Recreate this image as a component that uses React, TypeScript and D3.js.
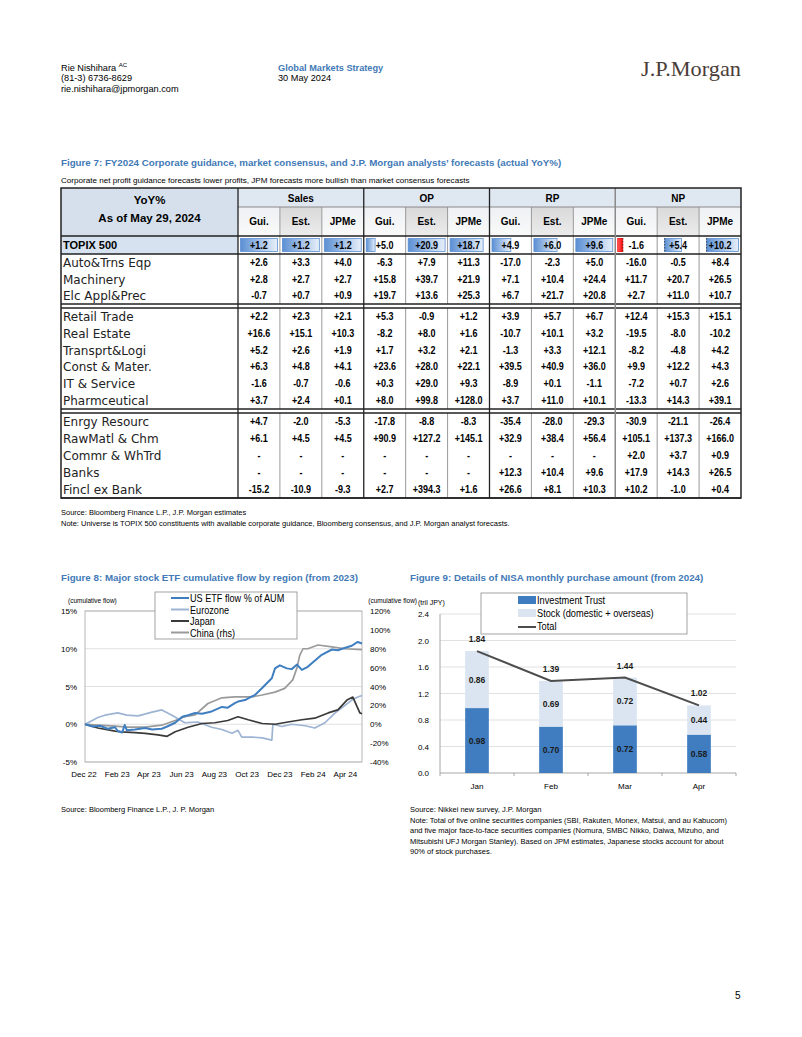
import React from "react";
import * as d3 from "d3";

const FONT = "'Liberation Sans', Arial, Helvetica, sans-serif";
const TITLE_BLUE = "#4279B6";

// ---------------- Figure 7 data ----------------
const metricNames = ["Sales", "OP", "RP", "NP"];
const subColNames = ["Gui.", "Est.", "JPMe"];
const topixName = "TOPIX 500";
const topixValues = [1.2, 1.2, 1.2, 5.0, 20.9, 18.7, 4.9, 6.0, 9.6, -1.6, 5.4, 10.2];

const groupA = ["Auto&Trns Eqp", "Machinery", "Elc Appl&Prec"];
const valuesA: (number | null)[][] = [
  [2.6, 3.3, 4.0, -6.3, 7.9, 11.3, -17.0, -2.3, 5.0, -16.0, -0.5, 8.4],
  [2.8, 2.7, 2.7, 15.8, 39.7, 21.9, 7.1, 10.4, 24.4, 11.7, 20.7, 26.5],
  [-0.7, 0.7, 0.9, 19.7, 13.6, 25.3, 6.7, 21.7, 20.8, 2.7, 11.0, 10.7],
];
const groupB = ["Retail Trade", "Real Estate", "Transprt&Logi", "Const & Mater.", "IT & Service", "Pharmceutical"];
const valuesB: (number | null)[][] = [
  [2.2, 2.3, 2.1, 5.3, -0.9, 1.2, 3.9, 5.7, 6.7, 12.4, 15.3, 15.1],
  [16.6, 15.1, 10.3, -8.2, 8.0, 1.6, -10.7, 10.1, 3.2, -19.5, -8.0, -10.2],
  [5.2, 2.6, 1.9, 1.7, 3.2, 2.1, -1.3, 3.3, 12.1, -8.2, -4.8, 4.2],
  [6.3, 4.8, 4.1, 23.6, 28.0, 22.1, 39.5, 40.9, 36.0, 9.9, 12.2, 4.3],
  [-1.6, -0.7, -0.6, 0.3, 29.0, 9.3, -8.9, 0.1, -1.1, -7.2, 0.7, 2.6],
  [3.7, 2.4, 0.1, 8.0, 99.8, 128.0, 3.7, 11.0, 10.1, -13.3, 14.3, 39.1],
];
const groupC = ["Enrgy Resourc", "RawMatl & Chm", "Commr & WhTrd", "Banks", "Fincl ex Bank"];
const valuesC: (number | null)[][] = [
  [4.7, -2.0, -5.3, -17.8, -8.8, -8.3, -35.4, -28.0, -29.3, -30.9, -21.1, -26.4],
  [6.1, 4.5, 4.5, 90.9, 127.2, 145.1, 32.9, 38.4, 56.4, 105.1, 137.3, 166.0],
  [null, null, null, null, null, null, null, null, null, 2.0, 3.7, 0.9],
  [null, null, null, null, null, null, 12.3, 10.4, 9.6, 17.9, 14.3, 26.5],
  [-15.2, -10.9, -9.3, 2.7, 394.3, 1.6, 26.6, 8.1, 10.3, 10.2, -1.0, 0.4],
];

// ---------------- Figure 8 data ----------------
const usEtf: [string, number][] = [
  ["2022-12-30", 0], ["2023-01-13", -0.3], ["2023-01-27", -0.2], ["2023-02-10", -0.6], ["2023-02-24", -0.4],
  ["2023-03-01", -0.9], ["2023-03-09", -1.1], ["2023-03-14", -0.1], ["2023-03-18", -0.8], ["2023-04-02", -0.7],
  ["2023-04-21", -0.5], ["2023-05-04", -0.7], ["2023-05-22", -0.6], ["2023-06-01", -0.3], ["2023-06-16", 0.2],
  ["2023-06-29", 1.0], ["2023-07-10", 1.2], ["2023-07-23", 1.5], ["2023-08-05", 1.4], ["2023-08-23", 1.7],
  ["2023-09-11", 2.3], ["2023-09-22", 2.2], ["2023-10-05", 2.8], ["2023-10-11", 3.0], ["2023-10-24", 3.2],
  ["2023-11-06", 3.7], ["2023-11-12", 3.9], ["2023-11-25", 4.8], ["2023-12-06", 5.6], ["2023-12-13", 6.1],
  ["2023-12-19", 7.4], ["2023-12-28", 7.8], ["2024-01-10", 7.4], ["2024-01-19", 7.3], ["2024-01-29", 7.9],
  ["2024-02-07", 7.2], ["2024-02-18", 7.6], ["2024-02-26", 8.1], ["2024-03-15", 9.2], ["2024-04-03", 9.9],
  ["2024-04-14", 9.8], ["2024-04-22", 10.0], ["2024-05-10", 10.4], ["2024-05-21", 10.9], ["2024-05-29", 10.7],
];
const eurozone: [string, number][] = [
  ["2022-12-30", 0], ["2023-01-10", 0.4], ["2023-01-23", 0.9], ["2023-02-05", 1.2], ["2023-03-01", 1.5],
  ["2023-03-18", 1.2], ["2023-04-08", 1.1], ["2023-05-04", 1.6], ["2023-05-22", 1.9], ["2023-06-10", 1.2],
  ["2023-07-04", 0.2], ["2023-07-28", 0.3], ["2023-08-23", -0.4], ["2023-09-11", -0.7], ["2023-09-22", -1.0],
  ["2023-09-30", -1.2], ["2023-10-11", -0.8], ["2023-10-18", -1.7], ["2023-11-06", -1.7], ["2023-11-25", -1.8],
  ["2023-12-13", -2.1], ["2023-12-15", 0.0], ["2024-01-01", -0.3], ["2024-01-19", 0.0], ["2024-02-13", -0.2],
  ["2024-03-02", -0.5], ["2024-03-21", 0.2], ["2024-04-09", 1.5], ["2024-04-22", 2.2], ["2024-05-10", 3.2],
  ["2024-05-21", 3.6], ["2024-05-29", 3.8],
];
const japan: [string, number][] = [
  ["2022-12-30", 0], ["2023-01-23", -0.5], ["2023-02-24", -0.9], ["2023-03-09", -1.0], ["2023-04-02", -1.1],
  ["2023-04-21", -1.2], ["2023-05-15", -1.4], ["2023-06-01", -1.6], ["2023-06-16", -1.0], ["2023-07-10", -0.4],
  ["2023-08-05", 0.1], ["2023-08-29", 0.2], ["2023-09-22", 0.5], ["2023-10-11", 1.0], ["2023-10-30", 0.6],
  ["2023-11-25", 0.1], ["2023-12-19", 0.0], ["2024-01-12", 0.3], ["2024-02-07", 0.6], ["2024-03-02", 0.8],
  ["2024-03-27", 1.5], ["2024-04-14", 1.9], ["2024-05-01", 3.2], ["2024-05-12", 3.6], ["2024-05-20", 2.3],
  ["2024-05-25", 1.5], ["2024-05-29", 1.4],
];
const chinaRhs: [string, number][] = [
  ["2022-12-30", 0], ["2023-01-23", -1], ["2023-02-24", -2], ["2023-03-18", -3], ["2023-04-21", -3],
  ["2023-05-22", -1], ["2023-06-16", 4], ["2023-07-04", 8], ["2023-07-23", 10], ["2023-08-16", 22],
  ["2023-09-11", 28], ["2023-10-05", 29], ["2023-11-06", 29], ["2023-11-25", 31], ["2023-12-19", 34],
  ["2024-01-06", 38], ["2024-01-21", 47], ["2024-01-29", 60], ["2024-02-03", 73], ["2024-02-09", 80],
  ["2024-02-18", 80], ["2024-03-08", 84], ["2024-04-03", 82], ["2024-04-27", 80], ["2024-05-29", 79],
];
const fig8Legend = ["US ETF flow % of AUM", "Eurozone", "Japan", "China (rhs)"];
const fig8Colors = ["#3F7FC1", "#9DB4D3", "#3A3A3A", "#9A9A9A"];
const leftTicks8 = [-5, 0, 5, 10, 15];
const rightTicks8 = [-40, -20, 0, 20, 40, 60, 80, 100, 120];

// ---------------- Figure 9 data ----------------
const nisaMonths = ["Jan", "Feb", "Mar", "Apr"];
const investmentTrust = [0.98, 0.70, 0.72, 0.58];
const stockPurchases = [0.86, 0.69, 0.72, 0.44];
const totalPurchases = [1.84, 1.39, 1.44, 1.02];
const yTicks9 = [0, 0.4, 0.8, 1.2, 1.6, 2.0, 2.4];
const fig9Legend = ["Investment Trust", "Stock (domestic + overseas)", "Total"];

const fmt = (v: number | null) => (v === null ? "-" : (v >= 0 ? "+" : "-") + Math.abs(v).toFixed(1));

// condensed text helper (narrow face emulation)
function NText(props: { x: number; y: number; sx?: number; anchor?: string; size: number; bold?: boolean; fill?: string; children: React.ReactNode }) {
  const { x, y, sx = 0.85, anchor = "start", size, bold, fill = "#000", children } = props;
  return (
    <text transform={`translate(${x},${y}) scale(${sx},1)`} textAnchor={anchor} fontSize={size}
      fontWeight={bold ? "bold" : "normal"} fill={fill}>{children}</text>
  );
}

function Table() {
  const x0 = 61, xL = 238, x1 = 741, colW = (x1 - xL) / 12;
  const yTop = 188, yH1 = 207, yH2 = 236, yTp = 254;
  const groups = [
    { names: groupA, vals: valuesA, top: 254, bottom: 304 },
    { names: groupB, vals: valuesB, top: 308, bottom: 409 },
    { names: groupC, vals: valuesC, top: 413, bottom: 498 },
  ];
  const colX = (i: number) => xL + i * colW;
  const sections: [number, number][] = [[yH1, yH2], [yH2, yTp], ...groups.map((g) => [g.top, g.bottom] as [number, number])];
  const els: React.ReactNode[] = [];

  els.push(<rect key="bgL" x={x0} y={yTop} width={xL - x0} height={yH2 - yTop} fill="#d6e0ec" />);
  els.push(<rect key="bgH1" x={xL} y={yTop} width={x1 - xL} height={yH1 - yTop} fill="#dfe7f1" />);
  for (let i = 0; i < 12; i++) {
    const k = i % 3;
    els.push(
      <rect key={"bgH2" + i} x={colX(i)} y={yH1} width={colW} height={yH2 - yH1}
        fill={k === 1 ? "url(#hdrGrey)" : "url(#hdrLight)"} />
    );
  }
  els.push(<rect key="bgTp" x={x0} y={yH2} width={xL - x0} height={yTp - yH2} fill="#d6e2ef" />);

  for (let g = 0; g < 4; g++) {
    const vs = topixValues.slice(g * 3, g * 3 + 3);
    const lo = Math.min(0, d3.min(vs) as number);
    const hi = Math.max(0, d3.max(vs) as number);
    for (let j = 0; j < 3; j++) {
      const i = g * 3 + j;
      const s = d3.scaleLinear().domain([lo, hi]).range([colX(i) + 2.5, colX(i) + colW - 2.5]);
      const v = vs[j];
      const a = s(Math.min(0, v)), b = s(Math.max(0, v));
      const neg = v < 0;
      els.push(
        <rect key={"bar" + i} x={a} y={yH2 + 2.5} width={Math.max(1.5, b - a)} height={yTp - yH2 - 5}
          fill={neg ? "url(#barRed)" : "url(#barBlue)"} stroke={neg ? "#ff0000" : "#5b8fd3"} strokeWidth={0.8} />
      );
      if (lo < 0) {
        els.push(<line key={"ax" + i} x1={s(0)} x2={s(0)} y1={yH2 + 2} y2={yTp - 2} stroke="#333" strokeDasharray="1.5,1.5" strokeWidth={0.8} />);
      }
    }
  }

  for (let i = 1; i < 12; i++) {
    if (i % 3 === 0) continue;
    sections.forEach(([a, b], si) =>
      els.push(<line key={`mv${i}-${si}`} x1={colX(i)} x2={colX(i)} y1={a} y2={b} stroke="#9a9a9a" strokeWidth={1} />)
    );
  }
  groups.forEach((g, gi) => {
    els.push(<line key={"gt" + gi} x1={x0} x2={x1} y1={g.top} y2={g.top} stroke="#222" strokeWidth={1.3} />);
    els.push(<line key={"gb" + gi} x1={x0} x2={x1} y1={g.bottom} y2={g.bottom} stroke="#222" strokeWidth={1.3} />);
  });
  els.push(<line key="h1" x1={xL} x2={x1} y1={yH1} y2={yH1} stroke="#8a8a8a" strokeWidth={1} />);
  els.push(<line key="h2" x1={x0} x2={x1} y1={yH2} y2={yH2} stroke="#222" strokeWidth={1.3} />);
  els.push(<line key="vL" x1={xL} x2={xL} y1={yTop} y2={498} stroke="#222" strokeWidth={1.3} />);
  [3, 6].forEach((i) => els.push(<line key={"vM" + i} x1={colX(i)} x2={colX(i)} y1={yTop} y2={498} stroke="#222" strokeWidth={1.3} />));
  els.push(<line key="vM9" x1={colX(9)} x2={colX(9)} y1={yTop} y2={498} stroke="#8a8a8a" strokeWidth={1.5} />);
  els.push(<rect key="outer" x={x0} y={yTop} width={x1 - x0} height={498 - yTop} fill="none" stroke="#222" strokeWidth={1.5} />);

  els.push(<text key="yoy" x={(x0 + xL) / 2} y={204} textAnchor="middle" fontWeight="bold" fontSize={11.5}>YoY%</text>);
  els.push(<text key="asof" x={(x0 + xL) / 2} y={222} textAnchor="middle" fontWeight="bold" fontSize={11.5}>As of May 29, 2024</text>);
  metricNames.forEach((m, g) =>
    els.push(<text key={"m" + g} x={colX(g * 3) + colW * 1.5} y={201.5} textAnchor="middle" fontWeight="bold" fontSize={10}>{m}</text>)
  );
  for (let i = 0; i < 12; i++) {
    els.push(<text key={"sc" + i} x={colX(i) + colW / 2} y={225} textAnchor="middle" fontWeight="bold" fontSize={10}>{subColNames[i % 3]}</text>);
  }
  els.push(<text key="tpx" x={63} y={249} fontWeight="bold" fontSize={11}>{topixName}</text>);
  topixValues.forEach((v, i) =>
    els.push(<NText key={"tv" + i} x={colX(i) + colW / 2} y={248.5} anchor="middle" size={10} bold sx={0.9}>{fmt(v)}</NText>)
  );

  groups.forEach((g, gi) => {
    const rh = (g.bottom - g.top) / g.names.length;
    g.names.forEach((name, r) => {
      const cy = g.top + rh * (r + 0.5);
      els.push(<text key={`rn${gi}-${r}`} x={63} y={cy + 4.5} fontSize={12} fontFamily="'DejaVu Sans', sans-serif" fill="#222">{name}</text>);
      g.vals[r].forEach((v, i) =>
        els.push(<NText key={`rv${gi}-${r}-${i}`} x={colX(i) + colW / 2} y={cy + 3.5} anchor="middle" size={10} bold sx={0.9}>{fmt(v)}</NText>)
      );
    });
  });
  return <g>{els}</g>;
}

function Fig8() {
  const parse = d3.timeParse("%Y-%m-%d");
  const start = parse("2022-12-30") as Date, end = parse("2024-05-29") as Date;
  const x = d3.scaleTime().domain([start, end]).range([85, 362]);
  const yL = d3.scaleLinear().domain([-5, 15]).range([762, 611]);
  const yR = d3.scaleLinear().domain([-40, 120]).range([762, 611]);
  const mk = (data: [string, number][], y: d3.ScaleLinear<number, number>) =>
    d3.line<[string, number]>().x((d) => x(parse(d[0]) as Date)).y((d) => y(d[1]))(data) || "";
  const paths = [mk(usEtf, yL), mk(eurozone, yL), mk(japan, yL), mk(chinaRhs, yR)];
  const xTicks = d3.range(9).map((i) => new Date(2022, 11 + 2 * i, 28));
  const fmtX = d3.timeFormat("%b %y");
  return (
    <g>
      <text x={61} y={581} fill={TITLE_BLUE} fontWeight="bold" fontSize={9.75}>Figure 8: Major stock ETF cumulative flow by region (from 2023)</text>
      <text x={68} y={603} fontSize={6.5}>(cumulative flow)</text>
      <text x={417} y={603} fontSize={6.5} textAnchor="end">(cumulative flow)</text>
      {leftTicks8.map((t) => (
        <g key={"gl" + t}>
          <line x1={85} x2={362} y1={yL(t)} y2={yL(t)} stroke="#d9d9d9" strokeWidth={0.8} />
          <text x={77} y={yL(t) + 3} textAnchor="end" fontSize={8}>{t}%</text>
        </g>
      ))}
      {rightTicks8.map((t) => (
        <text key={"rt" + t} x={370} y={yR(t) + 3} fontSize={8}>{t}%</text>
      ))}
      <rect x={85} y={611} width={277} height={151} fill="none" stroke="#a6a6a6" strokeWidth={0.8} />
      {xTicks.map((d, i) => (
        <text key={"xt" + i} x={x(d)} y={777} textAnchor="middle" fontSize={8}>{fmtX(d)}</text>
      ))}
      {[3, 1, 2, 0].map((k) => (
        <path key={"p" + k} d={paths[k]} fill="none" stroke={fig8Colors[k]} strokeWidth={k === 0 ? 2 : 1.7} strokeLinejoin="round" />
      ))}
      <rect x={155} y={592} width={142} height={47} fill="#fff" stroke="#8c8c8c" strokeWidth={0.8} />
      {fig8Legend.map((s, i) => (
        <g key={"lg" + i}>
          <line x1={171} x2={189} y1={598 + i * 11.5} y2={598 + i * 11.5} stroke={fig8Colors[i]} strokeWidth={2} />
          <NText x={190} y={602 + i * 11.5} size={11} sx={0.83}>{s}</NText>
        </g>
      ))}
      <text x={61} y={812} fontSize={7.5}>Source: Bloomberg Finance L.P., J. P. Morgan</text>
    </g>
  );
}

function Fig9() {
  const x = d3.scaleBand().domain(nisaMonths).range([440, 736]).paddingInner(0.68).paddingOuter(0.34);
  const y = d3.scaleLinear().domain([0, 2.4]).range([773, 614]);
  const fy = d3.format(".1f");
  const line = d3.line<number>().x((_, i) => (x(nisaMonths[i]) as number) + x.bandwidth() / 2).y((d) => y(d))(totalPurchases) || "";
  const noteLines = [
    "Source: Nikkei new survey, J.P. Morgan",
    "Note: Total of five online securities companies (SBI, Rakuten, Monex, Matsui, and au Kabucom)",
    "and five major face-to-face securities companies (Nomura, SMBC Nikko, Daiwa, Mizuho, and",
    "Mitsubishi UFJ Morgan Stanley). Based on JPM estimates, Japanese stocks account for about",
    "90% of stock purchases.",
  ];
  return (
    <g>
      <text x={410} y={581} fill={TITLE_BLUE} fontWeight="bold" fontSize={9.75}>Figure 9: Details of NISA monthly purchase amount (from 2024)</text>
      <text x={418} y={605} fontSize={7}>(tril JPY)</text>
      {yTicks9.map((t) => (
        <g key={"g9" + t}>
          {t > 0 && <line x1={440} x2={736} y1={y(t)} y2={y(t)} stroke="#d9d9d9" strokeWidth={0.8} />}
          <text x={429} y={y(t) + 3} textAnchor="end" fontSize={8}>{fy(t)}</text>
        </g>
      ))}
      <line x1={440} x2={440} y1={614} y2={773} stroke="#a6a6a6" />
      <line x1={440} x2={736} y1={773} y2={773} stroke="#a6a6a6" />
      {nisaMonths.map((m, i) => {
        const bx = x(m) as number, bw = x.bandwidth();
        const cx = bx + bw / 2;
        const base = investmentTrust[i];
        const top = base + stockPurchases[i];
        return (
          <g key={"b" + m}>
            <rect x={bx} y={y(base)} width={bw} height={y(0) - y(base)} fill="#3F7DC0" />
            <rect x={bx} y={y(top)} width={bw} height={y(base) - y(top)} fill="#DAE5F1" />
            <text x={cx} y={(y(0) + y(base)) / 2 + 3} textAnchor="middle" fontSize={8.5} fontWeight="bold" fill="#1a1a1a">{investmentTrust[i].toFixed(2)}</text>
            <text x={cx} y={(y(base) + y(top)) / 2 + 3} textAnchor="middle" fontSize={8.5} fontWeight="bold" fill="#1a1a1a">{stockPurchases[i].toFixed(2)}</text>
            <text x={cx} y={y(totalPurchases[i]) - 9} textAnchor="middle" fontSize={8.5} fontWeight="bold" fill="#1a1a1a">{totalPurchases[i].toFixed(2)}</text>
            <text x={cx} y={789} textAnchor="middle" fontSize={8}>{m}</text>
          </g>
        );
      })}
      {d3.range(5).map((i) => {
        const tx = 440 + i * x.step();
        return <line key={"tk" + i} x1={tx} x2={tx} y1={773} y2={776} stroke="#a6a6a6" />;
      })}
      <path d={line} fill="none" stroke="#4d4d4d" strokeWidth={2} />
      <rect x={481} y={593} width={206} height={41} fill="#fff" stroke="#8c8c8c" strokeWidth={0.8} />
      <rect x={518} y={596} width={18} height={8} fill="#3F7DC0" />
      <rect x={518} y={609} width={18} height={8} fill="#DAE5F1" />
      <line x1={518} x2={536} y1={627} y2={627} stroke="#4d4d4d" strokeWidth={2} />
      {fig9Legend.map((s, i) => (
        <NText key={"l9" + i} x={537} y={604 + i * 13} size={11} sx={0.84}>{s}</NText>
      ))}
      {noteLines.map((s, i) => (
        <text key={"n" + i} x={410} y={812 + i * 10.5} fontSize={7.5}>{s}</text>
      ))}
    </g>
  );
}

export default function App() {
  return (
    <svg width={802} height={1037} viewBox="0 0 802 1037"
      style={{ position: "absolute", left: 0, top: 0, background: "#fff" }} fontFamily={FONT}>
      <defs>
        <linearGradient id="barBlue" x1="0" x2="1" y1="0" y2="0">
          <stop offset="0" stopColor="#5b8fd3" />
          <stop offset="1" stopColor="#e8f0fa" />
        </linearGradient>
        <linearGradient id="barRed" x1="1" x2="0" y1="0" y2="0">
          <stop offset="0" stopColor="#ff0000" />
          <stop offset="1" stopColor="#ff6666" />
        </linearGradient>
        <linearGradient id="hdrGrey" x1="0" x2="0" y1="0" y2="1">
          <stop offset="0" stopColor="#d9d9d9" />
          <stop offset="1" stopColor="#ececec" />
        </linearGradient>
        <linearGradient id="hdrLight" x1="0" x2="0" y1="0" y2="1">
          <stop offset="0" stopColor="#eef0f3" />
          <stop offset="1" stopColor="#fafafa" />
        </linearGradient>
      </defs>
      <rect width={802} height={1037} fill="#fff" />
      <text x={61} y={71} fontSize={9.2}>Rie Nishihara <tspan fontSize={6} dy={-4}>AC</tspan></text>
      <text x={61} y={81} fontSize={9.2}>(81-3) 6736-8629</text>
      <text x={61} y={92} fontSize={9.2}>rie.nishihara@jpmorgan.com</text>
      <text x={278} y={71} fontSize={9.2} fontWeight="bold" fill={TITLE_BLUE}>Global Markets Strategy</text>
      <text x={278} y={81} fontSize={9.2}>30 May 2024</text>
      <text x={641} y={76} fontSize={22} fontFamily="'Liberation Serif', 'DejaVu Serif', serif" fill="#4a3d38" textLength={100} lengthAdjust="spacingAndGlyphs">J.P.Morgan</text>

      <text x={61} y={166} fill={TITLE_BLUE} fontWeight="bold" fontSize={9.75}>Figure 7: FY2024 Corporate guidance, market consensus, and J.P. Morgan analysts’ forecasts (actual YoY%)</text>
      <text x={61} y={183} fontSize={8.1}>Corporate net profit guidance forecasts lower profits, JPM forecasts more bullish than market consensus forecasts</text>
      <Table />
      <text x={61} y={515} fontSize={7.5}>Source: Bloomberg Finance L.P., J.P. Morgan estimates</text>
      <text x={61} y={526} fontSize={7.5}>Note: Universe is TOPIX 500 constituents with available corporate guidance, Bloomberg consensus, and J.P. Morgan analyst forecasts.</text>
      <Fig8 />
      <Fig9 />
      <text x={735} y={999} fontSize={10}>5</text>
    </svg>
  );
}
